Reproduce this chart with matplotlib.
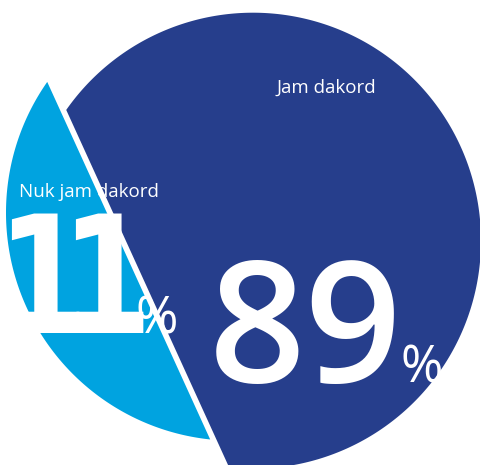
import numpy as np
import matplotlib.pyplot as plt
from matplotlib.patches import Polygon
from matplotlib.patheffects import AbstractPathEffect
from matplotlib.transforms import Affine2D

# answers and their shares (percent)
labels = ["Jam dakord", "Nuk jam dakord"]
shares = [89, 11]
colors = ["#263e8c", "#00a3e0"]

# circle geometry in pixel units (y grows downwards)
center = np.array([253.0, 240.7])
radius = 228.0
cut_angles = (96.0, 215.0)        # where the chord meets the circle, degrees
offset = np.array([-19.0, -28.0])  # shift of the small segment


class Squeeze(AbstractPathEffect):
    """Narrow the glyphs horizontally around their own centre."""

    def __init__(self, sx):
        super().__init__()
        self.sx = sx

    def draw_path(self, renderer, gc, tpath, affine, rgbFace=None):
        ext = tpath.get_extents(affine)
        cx = 0.5 * (ext.x0 + ext.x1)
        squeeze = Affine2D().translate(-cx, 0).scale(self.sx, 1).translate(cx, 0)
        renderer.draw_path(gc, tpath, affine + squeeze, rgbFace)


def segment(a0, a1, shift=(0, 0)):
    t = np.radians(np.linspace(a0, a1, 400))
    pts = np.column_stack([center[0] + radius * np.cos(t),
                           center[1] + radius * np.sin(t)])
    return pts + np.asarray(shift)


fig = plt.figure(figsize=(4.81, 4.65), dpi=100)
ax = fig.add_axes([0, 0, 1, 1])
ax.set_xlim(0, 481)
ax.set_ylim(465, 0)
ax.axis("off")

a0, a1 = cut_angles
big = segment(a1, a0 + 360)
small = segment(a0, a1, offset)
ax.add_patch(Polygon(big, closed=True, facecolor=colors[0], edgecolor="none"))
ax.add_patch(Polygon(small, closed=True, facecolor=colors[1], edgecolor="none"))

# labels
ax.text(277, 92.5, labels[0], color="white", fontsize=13.5, family="Open Sans",
        ha="left", va="baseline")
ax.text(19, 197, labels[1], color="white", fontsize=13.5, family="Open Sans",
        ha="left", va="baseline")

# big number for the majority answer
ax.text(209, 382, str(shares[0]), color="white", fontsize=122,
        family="Open Sans", weight="semibold", ha="left", va="baseline")
ax.text(401, 382, "%", color="white", fontsize=37, family="Open Sans",
        ha="left", va="baseline")

# tightly set, narrowed digits for the minority answer
for i, ch in enumerate(str(shares[1])):
    ax.text(42 + i * 64, 333, ch, color="white", fontsize=118,
            family="DejaVu Sans", weight="bold",
            ha="center", va="baseline", path_effects=[Squeeze(0.8)])
ax.text(136, 333, "%", color="white", fontsize=37, family="Open Sans",
        ha="left", va="baseline")

fig.savefig("out.png", dpi=100)
